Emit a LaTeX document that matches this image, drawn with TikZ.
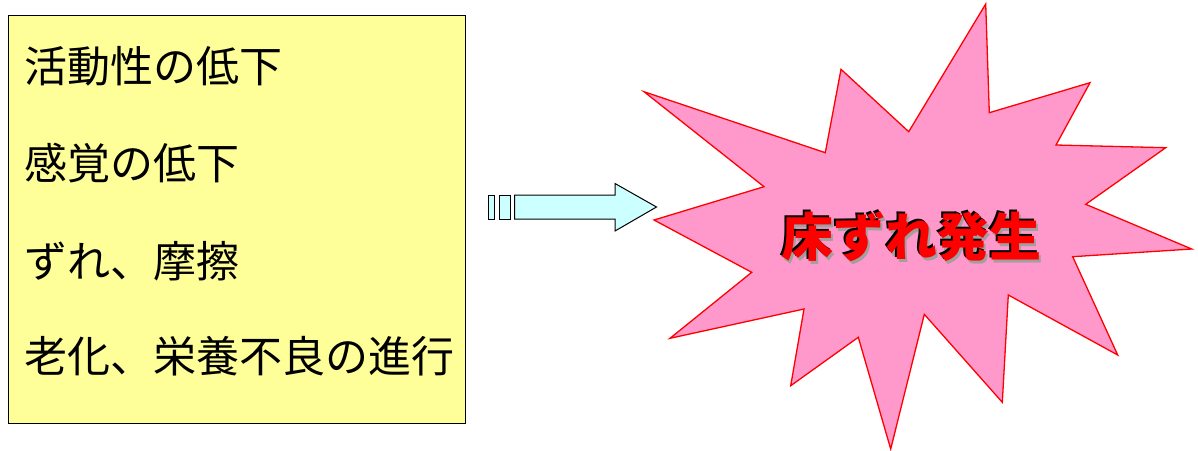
\documentclass[tikz,border=0pt]{standalone}
\usepackage{fontspec}
\newfontfamily\cjk{Noto Sans CJK JP}
\definecolor{boxyellow}{HTML}{FFFF99}
\definecolor{arrowcyan}{HTML}{CCFFFF}
\definecolor{starpink}{HTML}{FF99CC}
\definecolor{shadowgray}{HTML}{A0A0A0}
\newcommand{\shadowtitle}[1]{%
  \rlap{\hspace{2.5pt}\raisebox{-3pt}{\color{shadowgray}#1}}%
  \rlap{\hspace{-2pt}\raisebox{2pt}{\color{black}#1}}%
  {\color{red}#1}}
\tikzset{
  itemtext/.style={anchor=west, inner sep=0pt, font=\cjk\fontsize{43}{50}\selectfont, text=black},
  titletext/.style={inner sep=0pt, font=\cjk\bfseries\fontsize{52}{60}\selectfont},
  boxstyle/.style={draw=black, fill=boxyellow, line width=1pt, inner sep=0pt, anchor=north west, minimum width=457pt, minimum height=408pt},
  arrowstyle/.style={draw=black, fill=arrowcyan, line width=1pt, line join=miter},
  starstyle/.style={draw=red, fill=starpink, line width=1.3pt, line join=miter}
}
\begin{document}
\begin{tikzpicture}[x=1pt,y=-1pt]
\useasboundingbox (0,0) rectangle (1198,450);
% left box
\node[boxstyle] (box) at (8,15) {};
\node[itemtext] (t1) at (24,66) {活動性の低下};
\node[itemtext] (t2) at (24,163) {感覚の低下};
\node[itemtext] (t3) at (24,261) {ずれ、摩擦};
\node[itemtext] (t4) at (24,356) {老化、栄養不良の進行};
% block arrow
\draw[arrowstyle] (488.3,195) rectangle (494.3,219);
\draw[arrowstyle] (499,195) rectangle (510.7,219);
\draw[arrowstyle] (514.7,195) -- (615,195) -- (615,183.5) -- (656.5,207)
  -- (615,231) -- (615,219) -- (514.7,219) -- cycle;
% starburst
\draw[starstyle] (644,91.7) -- (825.3,152.7) -- (841,69.3) -- (908.7,131.7)
  -- (985.7,4) -- (989.3,112.7) -- (1090,82.7) -- (1056,145)
  -- (1165.7,147.7) -- (1085.7,204.3) -- (1191.7,249) -- (1072.7,256.7)
  -- (1117.7,355) -- (1008.3,295) -- (1002.3,402.3) -- (924.3,314.3)
  -- (890.7,449) -- (858.3,337.3) -- (790.7,385.7) -- (804,309)
  -- (670,338.3) -- (751.7,272.3) -- (654,220) -- (764,186.7) -- cycle;
% title with shadows
\node[titletext] (title) at (911,237.5) {\shadowtitle{床ずれ発生}};
\end{tikzpicture}
\end{document}
